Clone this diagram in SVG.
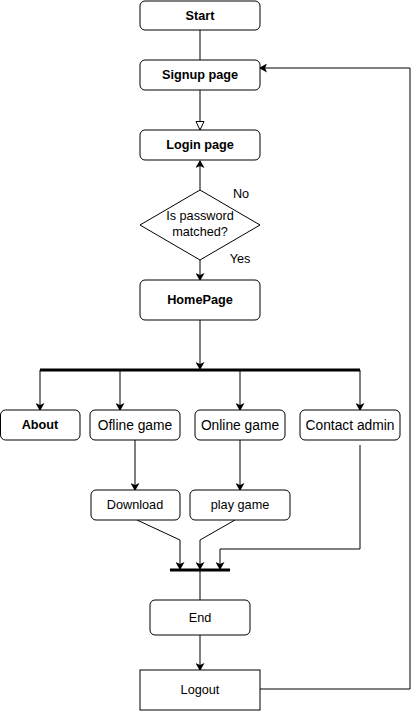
<svg xmlns="http://www.w3.org/2000/svg" width="419" height="712" viewBox="0 0 419 712">
<style>
.n{fill:#fff;stroke:#000;stroke-width:1}
.t{font-family:"Liberation Sans",Arial,sans-serif;font-size:12.7px;fill:#000;text-anchor:middle;dominant-baseline:central}
.b{font-weight:bold}
.l{font-size:13.8px}
.c{fill:none;stroke:#000;stroke-width:1}
.bar{stroke:#000;stroke-width:3}
</style>
<defs>
<marker id="a" markerWidth="8" markerHeight="9" refX="7" refY="4.5" orient="auto" markerUnits="userSpaceOnUse">
<path d="M0,0 L8,4.5 L0,9 L2,4.5 Z" fill="#000"/>
</marker>
<marker id="h" markerWidth="10" markerHeight="10" refX="9" refY="4.5" orient="auto" markerUnits="userSpaceOnUse">
<path d="M0.5,0.5 L9,4.5 L0.5,8.5 Z" fill="#fff" stroke="#000"/>
</marker>
</defs>
<g id="connectors">
<line class="c" x1="200" y1="30" x2="200" y2="60"/>
<line class="c" x1="200" y1="90" x2="200" y2="130" marker-end="url(#h)"/>
<line class="c" x1="200" y1="190" x2="200" y2="161" marker-end="url(#a)"/>
<line class="c" x1="200" y1="260" x2="200" y2="280" marker-end="url(#a)"/>
<line class="c" x1="200" y1="320" x2="200" y2="369" marker-end="url(#a)"/>
<line class="bar" x1="40" y1="370" x2="360" y2="370"/>
<line class="c" x1="40" y1="370" x2="40" y2="410" marker-end="url(#a)"/>
<line class="c" x1="120" y1="370" x2="120" y2="410" marker-end="url(#a)"/>
<line class="c" x1="240" y1="370" x2="240" y2="410" marker-end="url(#a)"/>
<line class="c" x1="360" y1="370" x2="360" y2="410" marker-end="url(#a)"/>
<line class="c" x1="135" y1="440" x2="135" y2="490" marker-end="url(#a)"/>
<line class="c" x1="240" y1="440" x2="240" y2="490" marker-end="url(#a)"/>
<polyline class="c" points="137,520 180,540 180,569" marker-end="url(#a)"/>
<polyline class="c" points="235,520 200,540 200,569" marker-end="url(#a)"/>
<polyline class="c" points="360,445 360,549 220,549 220,569" marker-end="url(#a)"/>
<line class="bar" x1="170" y1="570" x2="230" y2="570"/>
<line class="c" x1="200" y1="570" x2="200" y2="600"/>
<line class="c" x1="200" y1="635" x2="200" y2="670" marker-end="url(#a)"/>
<polyline class="c" points="260,689 410,689 410,68 260,68" marker-end="url(#a)"/>
</g>
<g id="start"><rect class="n" x="140" y="1" width="120" height="29" rx="5"/><text class="t b" x="200" y="15.5">Start</text></g>
<g id="signup"><rect class="n" x="140" y="60" width="120" height="30" rx="5"/><text class="t b" x="200" y="75">Signup page</text></g>
<g id="login"><rect class="n" x="140" y="130" width="120" height="30" rx="5"/><text class="t b" x="200" y="145">Login page</text></g>
<g id="decision"><polygon class="n" points="200,190 260,225 200,260 140,225"/><text class="t" x="200" y="215.5">Is password</text><text class="t" x="200" y="231.5">matched?</text></g>
<g id="labels"><text class="t" x="241" y="194">No</text><text class="t" x="240" y="259">Yes</text></g>
<g id="homepage"><rect class="n" x="140" y="280" width="120" height="40" rx="5"/><text class="t b" x="200" y="300">HomePage</text></g>
<g id="about"><rect class="n" x="0.5" y="410" width="79.5" height="30" rx="5"/><text class="t b" x="40" y="425">About</text></g>
<g id="ofline"><rect class="n" x="90" y="410" width="90" height="30" rx="5"/><text class="t l" x="135" y="425">Ofline game</text></g>
<g id="online"><rect class="n" x="195" y="410" width="90" height="30" rx="5"/><text class="t l" x="240" y="425">Online game</text></g>
<g id="contact"><rect class="n" x="300" y="410" width="100" height="30" rx="5"/><text class="t l" x="350" y="425">Contact admin</text></g>
<g id="download"><rect class="n" x="91" y="490" width="89" height="30" rx="5"/><text class="t" x="135" y="505">Download</text></g>
<g id="playgame"><rect class="n" x="190" y="490" width="100" height="30" rx="5"/><text class="t" x="240" y="505">play game</text></g>
<g id="end"><rect class="n" x="150" y="600" width="100" height="35" rx="5"/><text class="t" x="200" y="617.5">End</text></g>
<g id="logout"><rect class="n" x="140" y="670" width="120" height="40"/><text class="t" x="200" y="690">Logout</text></g>
</svg>
